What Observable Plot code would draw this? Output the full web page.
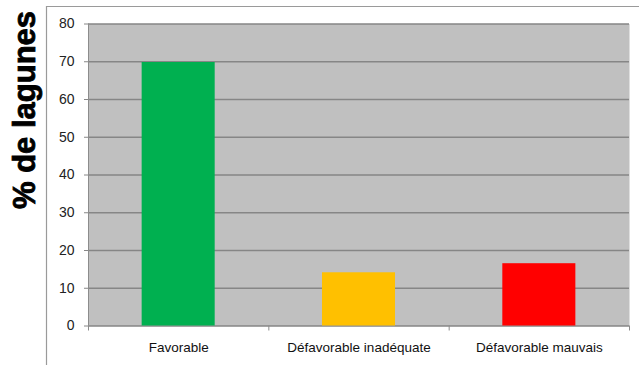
<!DOCTYPE html>
<html>
<head>
<meta charset="utf-8">
<script src="https://cdn.jsdelivr.net/npm/d3@7"></script>
<script src="https://cdn.jsdelivr.net/npm/@observablehq/plot@0.6"></script>
<style>
  html, body { margin: 0; padding: 0; background: #fff; }
  #chart { position: relative; width: 639px; height: 365px; overflow: hidden; }
  svg { display: block; }
</style>
</head>
<body>
<div id="chart"></div>
<script>
const categories = ["Favorable", "Défavorable inadéquate", "Défavorable mauvais"];
const values = [69.8, 14.1, 16.5];
const colors = ["#00B050", "#FFC000", "#FF0000"];
const yTicks = [0, 10, 20, 30, 40, 50, 60, 70, 80];
const yLabel = "% de lagunes";

const data = categories.map((c, i) => ({ i, category: c, value: values[i], color: colors[i] }));
const barHalf = 0.2025;

const plot = Plot.plot({
  width: 639,
  height: 365,
  marginLeft: 88,
  marginRight: 10,
  marginTop: 23.5,
  marginBottom: 39.5,
  style: { fontFamily: "'Liberation Sans', Arial, sans-serif", color: "#000", background: "transparent" },
  x: { type: "linear", domain: [0, categories.length], axis: null },
  y: { domain: [0, 80], axis: null },
  marks: [
    Plot.frame({ fill: "#C0C0C0", stroke: null }),
    Plot.ruleY(yTicks, { stroke: "#868686", strokeWidth: 1.3 }),
    Plot.ruleX([0], { stroke: "#8c8c8c", strokeWidth: 1 }),
    Plot.rectY(data, {
      x1: d => d.i + 0.5 - barHalf,
      x2: d => d.i + 0.5 + barHalf,
      y1: 0,
      y2: "value",
      fill: "color"
    }),
    Plot.axisY({
      ticks: yTicks,
      tickSize: 4,
      tickPadding: 10,
      stroke: "#868686",
      fontSize: 14,
      fill: "#222",
      label: null
    }),
    Plot.axisX({
      ticks: d3.range(categories.length + 1),
      tickSize: 5,
      tickFormat: () => "",
      stroke: "#8c8c8c",
      label: null
    }),
    Plot.axisX({
      ticks: categories.map((c, i) => i + 0.5),
      tickSize: 0,
      tickPadding: 16,
      tickFormat: v => categories[Math.round(v - 0.5)],
      fontSize: 13.5,
      fill: "#111",
      label: null
    })
  ]
});

document.getElementById("chart").appendChild(plot);

// decorative outer chart frame and rotated axis title
const svg = d3.select(plot);
svg.insert("path", ":first-child")
  .attr("d", "M46.5,370 V6.5 H645")
  .attr("fill", "none")
  .attr("stroke", "#9a9a9a")
  .attr("stroke-width", 1.2);
svg.append("text")
  .attr("transform", "translate(35,110) rotate(-90)")
  .attr("text-anchor", "middle")
  .attr("font-family", "'Liberation Sans', Arial, sans-serif")
  .attr("font-weight", "bold")
  .attr("font-size", 31)
  .attr("fill", "#000")
  .attr("stroke", "#000")
  .attr("stroke-width", 0.8)
  .text(yLabel);
</script>
</body>
</html>
